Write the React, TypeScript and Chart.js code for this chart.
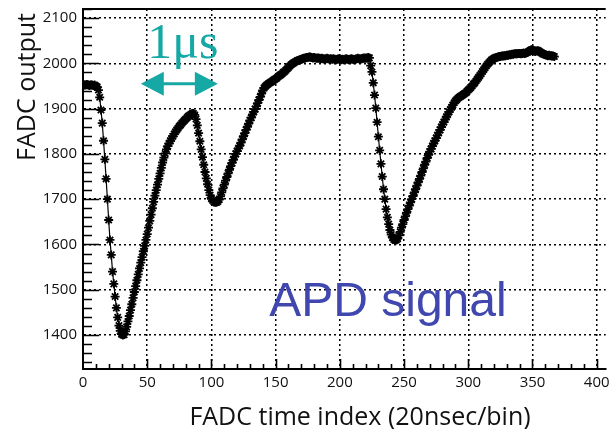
import React, { useEffect, useRef } from 'react';
import { Chart, registerables } from 'chart.js';

Chart.register(...registerables);

// FADC output per time index (0..367)
const FADC_VALUES: number[] = [
  // baseline 0-11
  1953, 1952, 1952, 1953, 1952, 1951, 1952, 1952, 1951, 1952, 1950, 1948,
  // first fall 12-32
  1941, 1925, 1897, 1868, 1829, 1788, 1745, 1700, 1654, 1610, 1577, 1540, 1513, 1485, 1460, 1439, 1421, 1409, 1402, 1400, 1401,
  // rise 33-62
  1408, 1418, 1430, 1442, 1455, 1468, 1482, 1495, 1508, 1521, 1534, 1547, 1560, 1572, 1585, 1597, 1610, 1623, 1637, 1652,
  1666, 1680, 1694, 1708, 1720, 1732, 1745, 1757, 1769, 1781,
  // 63-86
  1792, 1801, 1810, 1817, 1823, 1829, 1834, 1839, 1844, 1849, 1853, 1857, 1861, 1864, 1868, 1871, 1874, 1877, 1880, 1883,
  1885, 1887, 1889, 1889,
  // 87-106
  1886, 1877, 1863, 1846, 1828, 1810, 1793, 1776, 1760, 1746, 1733, 1720, 1709, 1701, 1697, 1694, 1693, 1693, 1695, 1699,
  // 107-141
  1706, 1715, 1724, 1732, 1741, 1749, 1757, 1765, 1773, 1780, 1787, 1794, 1800, 1806, 1812, 1818, 1825, 1832, 1839, 1846,
  1853, 1860, 1867, 1874, 1880, 1887, 1893, 1899, 1905, 1912, 1919, 1926, 1933, 1940, 1946,
  // 142-177
  1949, 1952, 1954, 1956, 1958, 1960, 1962, 1964, 1966, 1968, 1971, 1973, 1975, 1977, 1980, 1982, 1985, 1988, 1991, 1994,
  1997, 1999, 2001, 2003, 2004, 2006, 2007, 2008, 2009, 2010, 2011, 2012, 2013, 2013, 2014, 2014,
  // plateau 178-223
  2013, 2012, 2013, 2012, 2011, 2012, 2011, 2010, 2011, 2010, 2009, 2010, 2011, 2010, 2009, 2010, 2009, 2010, 2009, 2008,
  2009, 2010, 2009, 2008, 2009, 2008, 2009, 2010, 2009, 2008, 2009, 2010, 2009, 2008, 2009, 2010, 2011, 2010, 2009, 2010,
  2011, 2012, 2011, 2012, 2013, 2012,
  // second fall 224-244
  1995, 1981, 1957, 1930, 1901, 1870, 1838, 1808, 1778, 1750, 1722, 1700, 1678, 1660, 1645, 1632, 1622, 1615, 1611, 1609, 1610,
  // rise 245-290
  1613, 1620, 1628, 1637, 1645, 1654, 1662, 1670, 1678, 1686, 1693, 1700, 1707, 1715, 1722, 1730, 1737, 1745, 1752, 1760,
  1768, 1776, 1783, 1791, 1798, 1805, 1811, 1817, 1823, 1829, 1835, 1841, 1847, 1853, 1859, 1865, 1870, 1876, 1882, 1887,
  1893, 1898, 1903, 1908, 1913, 1917,
  // 291-320
  1920, 1923, 1925, 1927, 1929, 1931, 1933, 1935, 1938, 1941, 1944, 1947, 1950, 1954, 1957, 1961, 1965, 1969, 1973, 1977,
  1982, 1986, 1990, 1994, 1998, 2001, 2004, 2007, 2009, 2011,
  // 321-367
  2012, 2013, 2014, 2015, 2015, 2016, 2016, 2017, 2017, 2018, 2018, 2019, 2019, 2020, 2020, 2021, 2021, 2021, 2022, 2022,
  2021, 2022, 2023, 2022, 2023, 2024, 2026, 2028, 2030, 2030, 2028, 2026, 2027, 2028, 2027, 2025, 2023, 2021, 2020, 2019,
  2018, 2017, 2018, 2017, 2016, 2016, 2015,
];

const X_TICKS = [0, 50, 100, 150, 200, 250, 300, 350, 400];
const Y_TICKS = [1400, 1500, 1600, 1700, 1800, 1900, 2000, 2100];
const X_MIN = 0;
const X_MAX = 407;
const Y_MIN = 1325;
const Y_MAX = 2120;

const X_TITLE = 'FADC time index (20nsec/bin)';
const Y_TITLE = 'FADC output';
const NOTE_TIME = '1\u03bcs';
const NOTE_SIGNAL = 'APD signal';

const TEAL = '#16a8a5';
const BLUE = '#4048b0';

export default function App() {
  const ref = useRef<HTMLCanvasElement | null>(null);

  useEffect(() => {
    document.body.style.margin = '0';
    const canvas = ref.current;
    if (!canvas) return;
    const points = FADC_VALUES.map((v, i) => ({ x: i, y: v }));

    const decor = {
      id: 'decor',
      beforeDatasetsDraw(chart: any) {
        const { ctx, chartArea: a, scales } = chart;
        const xs = scales.x;
        const ys = scales.y;
        ctx.save();
        ctx.strokeStyle = '#000';
        ctx.lineWidth = 1.6;
        ctx.beginPath();
        for (let v = 1340; v <= Y_MAX; v += 20) {
          const py = Math.round(ys.getPixelForValue(v)) + 0.5;
          const len = v % 100 === 0 ? 16 : 9;
          ctx.moveTo(a.left, py);
          ctx.lineTo(a.left + len, py);
        }
        for (let v = 10; v <= X_MAX; v += 10) {
          const px = Math.round(xs.getPixelForValue(v)) + 0.5;
          const len = v % 50 === 0 ? 10 : 5;
          ctx.moveTo(px, a.bottom);
          ctx.lineTo(px, a.bottom - len);
        }
        ctx.stroke();
        // top frame
        ctx.lineWidth = 2;
        ctx.beginPath();
        ctx.moveTo(a.left, a.top);
        ctx.lineTo(a.right, a.top);
        ctx.stroke();
        ctx.restore();
      },
      afterDraw(chart: any) {
        const { ctx, scales } = chart;
        const xs = scales.x;
        const ys = scales.y;
        ctx.save();
        // axis titles
        ctx.fillStyle = '#111';
        ctx.font = '25px "Open Sans"';
        ctx.textBaseline = 'alphabetic';
        ctx.textAlign = 'center';
        ctx.fillText(X_TITLE, 360, 425);
        ctx.save();
        ctx.translate(35, 13);
        ctx.rotate(-Math.PI / 2);
        ctx.textAlign = 'right';
        ctx.fillText(Y_TITLE, 0, 0);
        ctx.restore();

        // 1 us note
        ctx.fillStyle = TEAL;
        ctx.font = '50px "Liberation Serif"';
        ctx.textAlign = 'left';
        ctx.fillText(NOTE_TIME, xs.getPixelForValue(50), ys.getPixelForValue(2012));

        // double arrow
        const x1 = xs.getPixelForValue(45);
        const x2 = xs.getPixelForValue(105);
        const ay = ys.getPixelForValue(1955);
        const head = 23;
        const half = 12;
        ctx.strokeStyle = TEAL;
        ctx.lineWidth = 3;
        ctx.beginPath();
        ctx.moveTo(x1 + head - 2, ay);
        ctx.lineTo(x2 - head + 2, ay);
        ctx.stroke();
        ctx.beginPath();
        ctx.moveTo(x1, ay);
        ctx.lineTo(x1 + head, ay - half);
        ctx.lineTo(x1 + head, ay + half);
        ctx.closePath();
        ctx.moveTo(x2, ay);
        ctx.lineTo(x2 - head, ay - half);
        ctx.lineTo(x2 - head, ay + half);
        ctx.closePath();
        ctx.fill();

        // APD signal note
        ctx.fillStyle = BLUE;
        ctx.font = '48px "Liberation Sans"';
        ctx.fillText(NOTE_SIGNAL, xs.getPixelForValue(145), ys.getPixelForValue(1442));
        ctx.restore();
      },
    };

    const chart = new Chart(canvas, {
      type: 'line',
      data: {
        datasets: [
          {
            data: points,
            borderColor: '#000',
            borderWidth: 1.2,
            pointStyle: 'star',
            pointRadius: 4.5,
            pointBorderColor: '#000',
            pointBackgroundColor: '#000',
            pointBorderWidth: 1.8,
            tension: 0,
            fill: false,
          },
        ],
      },
      options: {
        responsive: false,
        animation: false,
        events: [],
        layout: { padding: { top: 9, left: 0, right: 0, bottom: 0 } },
        plugins: { legend: { display: false }, tooltip: { enabled: false } },
        scales: {
          x: {
            type: 'linear',
            min: X_MIN,
            max: X_MAX,
            afterBuildTicks: (s: any) => {
              s.ticks = X_TICKS.map((v) => ({ value: v }));
            },
            afterFit: (s: any) => {
              s.height = 60;
              s.paddingLeft = 0;
              s.paddingRight = 0;
            },
            grid: { color: '#000', lineWidth: 1.5, drawTicks: false },
            border: { display: true, color: '#000', width: 2, dash: [2, 3] },
            ticks: {
              padding: 5,
              color: '#111',
              autoSkip: false,
              maxRotation: 0,
              font: { family: 'Open Sans', size: 15 },
              callback: (v: any) => String(v),
            },
          },
          y: {
            type: 'linear',
            min: Y_MIN,
            max: Y_MAX,
            afterBuildTicks: (s: any) => {
              s.ticks = Y_TICKS.map((v) => ({ value: v }));
            },
            afterFit: (s: any) => {
              s.width = 83;
              s.paddingTop = 0;
              s.paddingBottom = 0;
            },
            grid: { color: '#000', lineWidth: 1.5, drawTicks: false },
            border: { display: true, color: '#000', width: 2, dash: [2, 3] },
            ticks: {
              padding: 6,
              color: '#111',
              autoSkip: false,
              font: { family: 'Open Sans', size: 15 },
              callback: (v: any) => String(v),
            },
          },
        },
      },
      plugins: [decor],
    } as any);

    return () => chart.destroy();
  }, []);

  return <canvas ref={ref} width={612} height={429} style={{ display: 'block' }} />;
}
